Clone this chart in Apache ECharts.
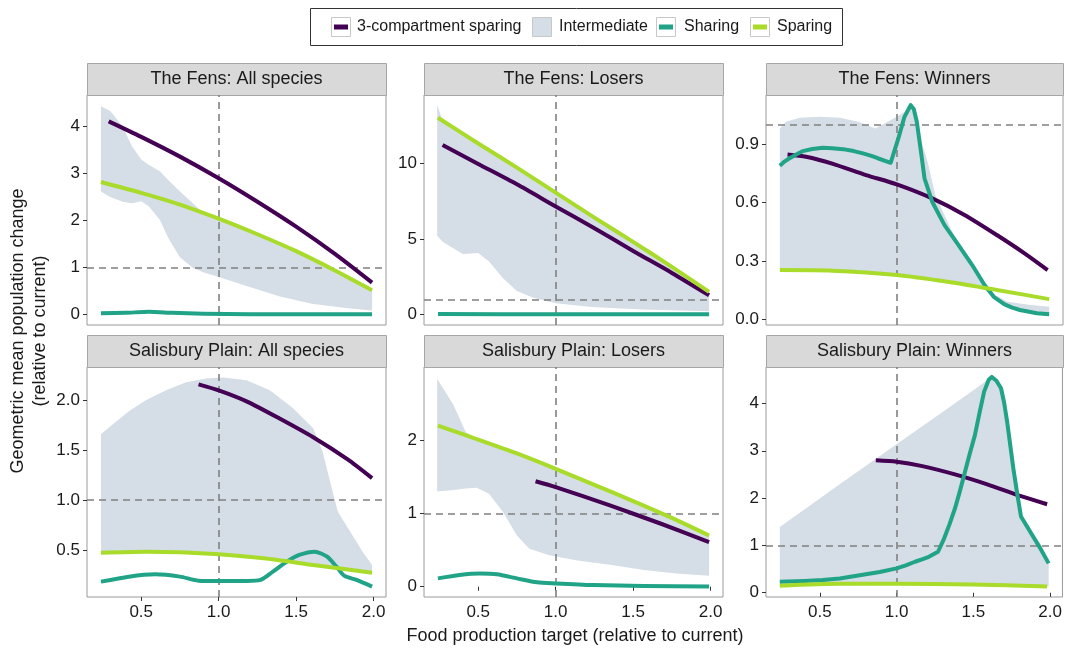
<!DOCTYPE html>
<html>
<head>
<meta charset="utf-8">
<script src="https://cdn.jsdelivr.net/npm/echarts@6/dist/echarts.min.js"></script>
<style>
html,body{margin:0;padding:0;background:#fff;}
#c{width:1065px;height:648px;}
</style>
</head>
<body>
<div id="c"></div>
<script>
// ---------- labels ----------
const legendNames = ['3-compartment sparing', 'Intermediate', 'Sharing', 'Sparing'];
const panelTitles = ['The Fens: All species', 'The Fens: Losers', 'The Fens: Winners',
  'Salisbury Plain: All species', 'Salisbury Plain: Losers', 'Salisbury Plain: Winners'];
const xTicks = [0.5, 1.0, 1.5, 2.0];
const yTicks = [[0, 1, 2, 3, 4], [0, 5, 10], [0, 0.3, 0.6, 0.9], [0.5, 1.0, 1.5, 2.0], [0, 1, 2], [0, 1, 2, 3, 4]];
const yDecimals = [0, 0, 1, 1, 0, 0];
const yRanges = [[-0.22, 4.67], [-0.69, 14.5], [-0.029, 1.152], [0.029, 2.334], [-0.14, 3.0], [-0.09, 4.77]];
const xRange = [0.15, 2.08];
const xTitle = 'Food production target (relative to current)';
const yTitle1 = 'Geometric mean population change';
const yTitle2 = '(relative to current)';

// ---------- The Fens: All species ----------
const fensAll3c = [[0.29,4.11],[0.5,3.78],[0.75,3.36],[1.0,2.90],[1.25,2.40],[1.5,1.87],[1.75,1.29],[1.99,0.68]];
const fensAllSharing = [[0.24,0.03],[0.4,0.04],[0.55,0.06],[0.7,0.04],[0.9,0.02],[1.2,0.01],[1.6,0.01],[1.99,0.01]];
const fensAllSparing = [[0.24,2.82],[0.5,2.59],[0.75,2.34],[1.0,2.04],[1.25,1.71],[1.5,1.35],[1.75,0.94],[1.99,0.52]];
const fensAllRibX = [0.24,0.30,0.38,0.44,0.50,0.55,0.62,0.68,0.75,0.83,0.90,1.0,1.18,1.39,1.6,1.82,1.99];
const fensAllRibLo = [2.62,2.50,2.40,2.37,2.41,2.30,2.02,1.60,1.22,1.0,0.90,0.80,0.61,0.39,0.23,0.14,0.09];
const fensAllRibHi = [4.43,4.33,4.0,3.58,3.30,3.18,3.05,2.84,2.62,2.38,2.16,2.04,1.81,1.51,1.19,0.82,0.52];

// ---------- The Fens: Losers ----------
const fensLos3c = [[0.27,11.2],[0.5,9.95],[0.75,8.6],[1.0,7.14],[1.25,5.7],[1.5,4.2],[1.75,2.75],[1.99,1.27]];
const fensLosSharing = [[0.24,0.03],[1.0,0.02],[1.99,0.02]];
const fensLosSparing = [[0.24,13.0],[0.5,11.3],[0.75,9.7],[1.0,8.05],[1.25,6.4],[1.5,4.8],[1.75,3.15],[1.99,1.5]];
const fensLosRibX = [0.235,0.27,0.40,0.50,0.57,0.66,0.75,0.86,1.0,1.23,1.56,1.99];
const fensLosRibLo = [5.2,4.8,4.0,4.06,3.5,2.4,1.55,1.1,0.75,0.5,0.33,0.22];
const fensLosRibHi = [13.85,12.8,11.95,11.3,10.85,10.25,9.7,8.95,8.05,6.55,4.4,1.5];

// ---------- The Fens: Winners ----------
const fensWin3c = [[0.29,0.847],[0.41,0.835],[0.58,0.80],[0.80,0.741],[1.0,0.693],[1.23,0.621],[1.44,0.536],[1.65,0.433],[1.83,0.339],[1.98,0.253]];
const fensWinSharing = [[0.24,0.789],[0.27,0.81],[0.30,0.826],[0.35,0.848],[0.39,0.864],[0.45,0.875],[0.52,0.881],[0.58,0.879],[0.65,0.874],[0.72,0.864],[0.78,0.852],[0.84,0.838],[0.88,0.826],[0.96,0.804],[1.01,0.929],[1.05,1.04],[1.09,1.10],[1.11,1.08],[1.13,1.015],[1.16,0.844],[1.18,0.724],[1.23,0.604],[1.31,0.484],[1.40,0.382],[1.49,0.279],[1.57,0.176],[1.63,0.116],[1.70,0.077],[1.75,0.06],[1.80,0.048],[1.91,0.031],[1.99,0.026]];
const fensWinSparing = [[0.24,0.253],[0.58,0.25],[1.0,0.228],[1.33,0.193],[1.65,0.151],[1.99,0.104]];
const fensWinRibX = [0.24,0.28,0.37,0.50,0.63,0.75,0.86,0.92,1.0,1.05,1.09,1.13,1.20,1.25,1.35,1.47,1.55,1.64,1.72,1.87,1.99];
const fensWinRibLo = [0.253,0.253,0.252,0.251,0.249,0.244,0.238,0.234,0.228,0.223,0.219,0.214,0.207,0.202,0.191,0.175,0.165,0.11,0.07,0.04,0.03];
const fensWinRibHi = [0.98,1.015,1.035,1.04,1.035,1.015,0.98,1.006,1.04,1.066,1.10,0.99,0.809,0.638,0.467,0.296,0.193,0.125,0.091,0.074,0.065];

// ---------- Salisbury Plain: All species ----------
const salAll3c = [[0.87,2.16],[1.0,2.10],[1.18,1.99],[1.39,1.82],[1.61,1.63],[1.83,1.41],[1.99,1.22]];
const salAllSharing = [[0.24,0.183],[0.42,0.233],[0.59,0.256],[0.75,0.233],[0.87,0.193],[1.0,0.19],[1.18,0.19],[1.27,0.2],[1.35,0.283],[1.44,0.383],[1.52,0.45],[1.62,0.483],[1.70,0.433],[1.76,0.333],[1.81,0.243],[1.89,0.2],[1.99,0.133]];
const salAllSparing = [[0.24,0.473],[0.53,0.483],[0.75,0.477],[1.0,0.457],[1.29,0.417],[1.61,0.35],[1.99,0.273]];
const salAllRibX = [0.24,0.31,0.42,0.53,0.66,0.79,0.92,1.03,1.18,1.33,1.48,1.61,1.67,1.73,1.77,1.85,1.93,1.99];
const salAllRibLo = [0.473,0.476,0.48,0.483,0.48,0.475,0.465,0.454,0.433,0.41,0.38,0.35,0.338,0.326,0.318,0.30,0.285,0.273];
const salAllRibHi = [1.66,1.75,1.89,2.0,2.1,2.18,2.22,2.23,2.2,2.1,1.92,1.72,1.49,1.12,0.88,0.68,0.48,0.35];

// ---------- Salisbury Plain: Losers ----------
const salLos3c = [[0.87,1.44],[1.0,1.36],[1.35,1.11],[1.68,0.86],[1.99,0.61]];
const salLosSharing = [[0.24,0.114],[0.38,0.16],[0.51,0.18],[0.62,0.17],[0.75,0.114],[0.88,0.06],[1.0,0.045],[1.24,0.023],[1.57,0.01],[1.99,0.005]];
const salLosSparing = [[0.24,2.2],[0.5,2.01],[0.75,1.82],[1.0,1.61],[1.25,1.39],[1.5,1.17],[1.75,0.94],[1.99,0.70]];
const salLosRibX = [0.235,0.34,0.42,0.49,0.57,0.66,0.75,0.83,0.96,1.14,1.35,1.57,1.78,1.99];
const salLosRibLo = [1.30,1.32,1.34,1.35,1.27,1.02,0.70,0.52,0.43,0.36,0.30,0.23,0.18,0.15];
const salLosRibHi = [2.84,2.48,2.11,2.02,1.96,1.89,1.82,1.76,1.65,1.49,1.30,1.11,0.91,0.70];

// ---------- Salisbury Plain: Winners ----------
const salWin3c = [[0.865,2.80],[1.0,2.77],[1.16,2.68],[1.38,2.50],[1.59,2.29],[1.81,2.04],[1.98,1.87]];
const salWinSharing = [[0.24,0.232],[0.40,0.25],[0.52,0.268],[0.63,0.30],[0.74,0.36],[0.82,0.40],[0.89,0.44],[1.0,0.514],[1.06,0.58],[1.12,0.655],[1.17,0.71],[1.21,0.76],[1.27,0.866],[1.31,1.15],[1.345,1.45],[1.38,1.78],[1.41,2.12],[1.44,2.49],[1.475,2.92],[1.51,3.33],[1.54,3.80],[1.57,4.25],[1.60,4.50],[1.62,4.56],[1.65,4.48],[1.68,4.32],[1.70,4.02],[1.72,3.61],[1.74,3.12],[1.76,2.63],[1.785,2.10],[1.81,1.61],[1.87,1.29],[1.93,0.97],[1.99,0.62]];
const salWinSparing = [[0.24,0.15],[0.63,0.19],[1.0,0.19],[1.49,0.176],[1.98,0.13]];
const salWinRibX = [0.24,0.63,1.0,1.3,1.5,1.62,1.68,1.72,1.76,1.81,1.87,1.93,1.99];
const salWinRibLo = [0.15,0.19,0.19,0.18,0.176,0.17,0.166,0.163,0.16,0.155,0.145,0.137,0.13];
const salWinRibHi = [1.39,2.29,3.14,3.82,4.28,4.56,4.32,3.65,2.7,1.65,1.32,1.0,0.65];

// reference lines
const refX = 1.0;
const refY = 1.0;

// ---------- styling / layout ----------
const FONT = "'Liberation Sans', Arial, Helvetica, sans-serif";
const colors = { threeComp: '#440154', ribbon: '#D5DDE6', sharing: '#20A386', sparing: '#A8DB2A' };
const colLeft = [87, 424, 766];
const colWidth = [299, 299, 297];
const rowTop = [95, 367];
const plotH = 230;
const stripH = 32;
const sharpSharing = [false, false, true, false, false, true];

const panels = [
  { s3: fensAll3c, sh: fensAllSharing, sp: fensAllSparing, rx: fensAllRibX, rlo: fensAllRibLo, rhi: fensAllRibHi },
  { s3: fensLos3c, sh: fensLosSharing, sp: fensLosSparing, rx: fensLosRibX, rlo: fensLosRibLo, rhi: fensLosRibHi },
  { s3: fensWin3c, sh: fensWinSharing, sp: fensWinSparing, rx: fensWinRibX, rlo: fensWinRibLo, rhi: fensWinRibHi },
  { s3: salAll3c, sh: salAllSharing, sp: salAllSparing, rx: salAllRibX, rlo: salAllRibLo, rhi: salAllRibHi },
  { s3: salLos3c, sh: salLosSharing, sp: salLosSparing, rx: salLosRibX, rlo: salLosRibLo, rhi: salLosRibHi },
  { s3: salWin3c, sh: salWinSharing, sp: salWinSparing, rx: salWinRibX, rlo: salWinRibLo, rhi: salWinRibHi }
];

const grids = [], xAxes = [], yAxes = [], series = [], graphics = [];

panels.forEach((p, k) => {
  const row = Math.floor(k / 3), col = k % 3;
  const left = colLeft[col], top = rowTop[row], w = colWidth[col];
  grids.push({ left: left, top: top, width: w, height: plotH, show: true,
    borderColor: '#9A9A9A', borderWidth: 1, backgroundColor: 'transparent', containLabel: false });
  const bottomRow = row === 1;
  xAxes.push({ type: 'value', gridIndex: k, min: xRange[0], max: xRange[1],
    axisLine: { show: false }, splitLine: { show: false },
    axisTick: { show: bottomRow, length: 4, lineStyle: { color: '#333', width: 1 }, customValues: xTicks },
    axisLabel: { show: bottomRow, customValues: xTicks, margin: 7, color: '#1a1a1a', fontSize: 17, fontFamily: FONT,
      formatter: v => v.toFixed(1) } });
  const dec = yDecimals[k];
  yAxes.push({ type: 'value', gridIndex: k, min: yRanges[k][0], max: yRanges[k][1],
    axisLine: { show: false }, splitLine: { show: false },
    axisTick: { show: true, length: 4, lineStyle: { color: '#333', width: 1 }, customValues: yTicks[k] },
    axisLabel: { customValues: yTicks[k], margin: 7, color: '#1a1a1a', fontSize: 17, fontFamily: FONT,
      formatter: v => v.toFixed(dec) } });

  // ribbon as a polygon through the axis scales
  const rdata = p.rx.map((x, i) => [x, p.rlo[i], p.rhi[i]]);
  series.push({ type: 'custom', name: 'Intermediate', xAxisIndex: k, yAxisIndex: k, data: rdata,
    encode: { x: 0, y: [1, 2] }, z: 1, silent: true,
    renderItem: (params, api) => {
      if (params.dataIndex !== 0) return null;
      const up = rdata.map(d => api.coord([d[0], d[2]]));
      const lo = rdata.map(d => api.coord([d[0], d[1]])).reverse();
      return { type: 'polygon', shape: { points: up.concat(lo), smooth: 0 },
        style: { fill: colors.ribbon, stroke: null } };
    } });

  const lineDefs = [
    ['3-compartment sparing', p.s3, colors.threeComp, 0.25],
    ['Sharing', p.sh, colors.sharing, sharpSharing[k] ? false : 0.25],
    ['Sparing', p.sp, colors.sparing, 0.25]
  ];
  lineDefs.forEach(([name, d, c, sm], j) => {
    const s = { type: 'line', name: name, xAxisIndex: k, yAxisIndex: k, data: d, symbol: 'none',
      smooth: sm, lineStyle: { color: c, width: 4, cap: 'butt', join: 'round' }, itemStyle: { color: c },
      z: 4, silent: true };
    if (j === 0) {
      s.markLine = { silent: true, symbol: 'none', z: 3, label: { show: false }, animation: false,
        lineStyle: { color: '#808080', type: [7, 5], width: 1.6 },
        data: [{ xAxis: refX }, { yAxis: refY }] };
    }
    series.push(s);
  });

  // facet strip
  graphics.push({ type: 'rect', left: left, top: top - stripH, silent: true,
    shape: { width: w, height: stripH }, style: { fill: '#D9D9D9', stroke: '#A6A6A6', lineWidth: 1 } });
  graphics.push({ type: 'text', x: left + w / 2, y: top - stripH / 2, silent: true,
    style: { text: panelTitles[k], fill: '#1a1a1a', font: '18px ' + FONT, textAlign: 'center', textVerticalAlign: 'middle' } });
});

// legend (drawn)
graphics.push({ type: 'rect', shape: { x: 310.5, y: 8.5, width: 532, height: 37 }, silent: true,
  style: { fill: '#fff', stroke: '#333', lineWidth: 1 } });
const legendKeyX = [331, 532, 656, 750];
const legendTextX = [357, 559, 684, 777];
const legendColors = [colors.threeComp, colors.ribbon, colors.sharing, colors.sparing];
legendNames.forEach((n, i) => {
  const kx = legendKeyX[i];
  const isRib = i === 1;
  graphics.push({ type: 'rect', shape: { x: kx + 0.5, y: 17.5, width: 19, height: 19 }, silent: true,
    style: { fill: isRib ? colors.ribbon : '#fff', stroke: '#C8C8C8', lineWidth: 1 } });
  if (!isRib) {
    graphics.push({ type: 'rect', shape: { x: kx + 3, y: 24.5, width: 14, height: 5 }, silent: true,
      style: { fill: legendColors[i] } });
  }
  graphics.push({ type: 'text', x: legendTextX[i], y: 27, silent: true,
    style: { text: n, fill: '#1a1a1a', font: '16px ' + FONT, textAlign: 'left', textVerticalAlign: 'middle' } });
});

// axis titles
graphics.push({ type: 'text', x: 575, y: 636, silent: true,
  style: { text: xTitle, fill: '#1a1a1a', font: '18px ' + FONT, textAlign: 'center', textVerticalAlign: 'middle' } });
graphics.push({ type: 'text', x: 18, y: 331, rotation: Math.PI / 2, silent: true,
  style: { text: yTitle1, fill: '#1a1a1a', font: '18px ' + FONT, textAlign: 'center', textVerticalAlign: 'middle' } });
graphics.push({ type: 'text', x: 40, y: 331, rotation: Math.PI / 2, silent: true,
  style: { text: yTitle2, fill: '#1a1a1a', font: '18px ' + FONT, textAlign: 'center', textVerticalAlign: 'middle' } });

const chart = echarts.init(document.getElementById('c'), null, { renderer: 'canvas' });
chart.setOption({
  backgroundColor: '#fff',
  animation: false,
  grid: grids,
  xAxis: xAxes,
  yAxis: yAxes,
  series: series,
  graphic: { elements: graphics }
});
</script>
</body>
</html>
